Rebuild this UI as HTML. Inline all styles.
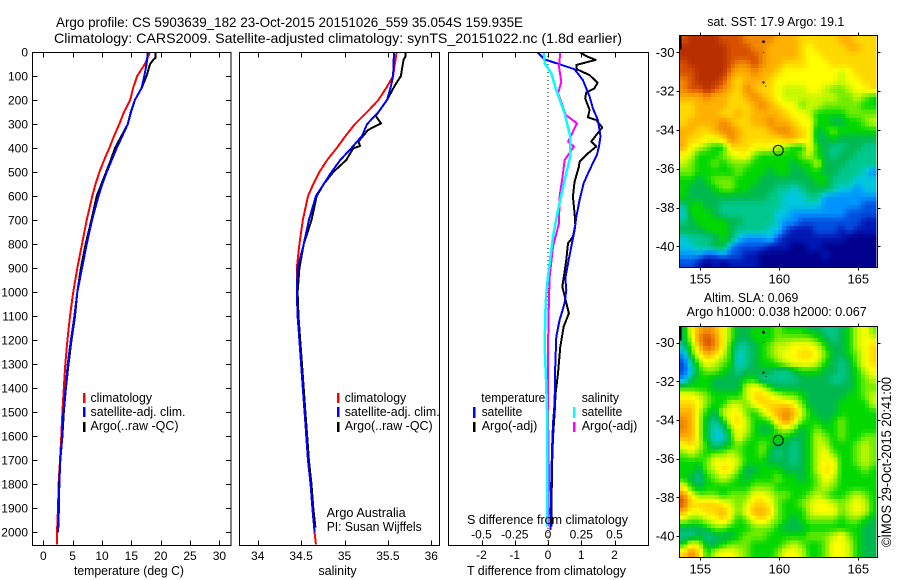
<!DOCTYPE html>
<html lang="en">
<head>
<meta charset="utf-8">
<title>Argo profile 5903639_182</title>
<style>
html,body{margin:0;padding:0;background:#fff;width:900px;height:580px;overflow:hidden}
svg{display:block}
text{font-family:"Liberation Sans",Arial,sans-serif;fill:#000}
</style>
</head>
<body>
<svg id="chart" xmlns="http://www.w3.org/2000/svg" width="900" height="580" viewBox="0 0 900 580">
<rect x="0" y="0" width="900" height="580" fill="#fff"/>
<text x="56" y="27" font-size="14" textLength="467" lengthAdjust="spacingAndGlyphs">Argo profile: CS 5903639_182 23-Oct-2015 20151026_559 35.054S 159.935E</text>
<text x="54" y="43" font-size="14" textLength="568" lengthAdjust="spacingAndGlyphs">Climatology: CARS2009. Satellite-adjusted climatology: synTS_20151022.nc (1.8d earlier)</text>
<defs>
<clipPath id="clip-p1"><rect x="32.5" y="52" width="198.5" height="493"/></clipPath>
<clipPath id="clip-p2"><rect x="239.5" y="52" width="200" height="493"/></clipPath>
<clipPath id="clip-p3"><rect x="448.5" y="52" width="200" height="493"/></clipPath>
<clipPath id="clip-m1"><rect x="679.5" y="35" width="197" height="232.5"/></clipPath>
<clipPath id="clip-m2"><rect x="679.5" y="326" width="197" height="231.5"/></clipPath>
</defs>
<g id="layer-maps"></g>
<g id="layer-lines"></g>
<g id="layer-axes"></g>

<g font-size="12.5">
<rect x="83" y="393" width="2.5" height="10" fill="#f00"/>
<rect x="83" y="407" width="2.5" height="10" fill="#00f"/>
<rect x="83" y="422" width="2.5" height="10" fill="#000"/>
<text x="90.5" y="402" textLength="61.5" lengthAdjust="spacingAndGlyphs">climatology</text>
<text x="90.5" y="416" textLength="95" lengthAdjust="spacingAndGlyphs">satellite-adj. clim.</text>
<text x="90.5" y="430" textLength="88" lengthAdjust="spacingAndGlyphs">Argo(..raw -QC)</text>
</g>
<g font-size="12.5">
<rect x="337" y="393" width="2.5" height="10" fill="#f00"/>
<rect x="337" y="407" width="2.5" height="10" fill="#00f"/>
<rect x="337" y="422" width="2.5" height="10" fill="#000"/>
<text x="344.7" y="402" textLength="61.5" lengthAdjust="spacingAndGlyphs">climatology</text>
<text x="344.7" y="416" textLength="95" lengthAdjust="spacingAndGlyphs">satellite-adj. clim.</text>
<text x="344.7" y="430" textLength="88" lengthAdjust="spacingAndGlyphs">Argo(..raw -QC)</text>
<text x="326.7" y="517" textLength="79" lengthAdjust="spacingAndGlyphs">Argo Australia</text>
<text x="326.7" y="531" textLength="95" lengthAdjust="spacingAndGlyphs">PI: Susan Wijffels</text>
</g>
<g font-size="12.5">
<text x="481.3" y="402" textLength="64" lengthAdjust="spacingAndGlyphs">temperature</text>
<text x="481.7" y="416" textLength="40.6" lengthAdjust="spacingAndGlyphs">satellite</text>
<text x="481.7" y="430" textLength="55.6" lengthAdjust="spacingAndGlyphs">Argo(-adj)</text>
<rect x="473" y="407" width="2.5" height="11" fill="#00f"/>
<rect x="473" y="422" width="2.5" height="10" fill="#000"/>
<text x="581.7" y="402" textLength="37.3" lengthAdjust="spacingAndGlyphs">salinity</text>
<text x="581.7" y="416" textLength="40.6" lengthAdjust="spacingAndGlyphs">satellite</text>
<text x="581.7" y="430" textLength="55.6" lengthAdjust="spacingAndGlyphs">Argo(-adj)</text>
<rect x="573" y="407" width="2.5" height="11" fill="#0ff"/>
<rect x="573" y="422" width="2.5" height="10" fill="#f0f"/>
<text x="467" y="524" textLength="161" lengthAdjust="spacingAndGlyphs">S difference from climatology</text>
</g>

<text x="74" y="575" font-size="12.5" textLength="110" lengthAdjust="spacingAndGlyphs">temperature (deg C)</text>
<text x="337.5" y="575" font-size="12.5" text-anchor="middle">salinity</text>
<text x="467" y="575" font-size="12.5" textLength="159" lengthAdjust="spacingAndGlyphs">T difference from climatology</text>
<text x="707.3" y="26" font-size="12.5" textLength="137" lengthAdjust="spacingAndGlyphs">sat. SST: 17.9 Argo: 19.1</text>
<text x="704" y="302" font-size="12.5" textLength="94.3" lengthAdjust="spacingAndGlyphs">Altim. SLA: 0.069</text>
<text x="686.7" y="316" font-size="12.5" textLength="180" lengthAdjust="spacingAndGlyphs">Argo h1000: 0.038 h2000: 0.067</text>
<text transform="translate(891,547) rotate(-90)" font-size="13.5" textLength="170" lengthAdjust="spacingAndGlyphs">©IMOS 29-Oct-2015 20:41:00</text>
</svg>

<script>
// ---------- Panel axis tick labels ----------
const depthTicks = [0,100,200,300,400,500,600,700,800,900,1000,1100,1200,1300,1400,1500,1600,1700,1800,1900,2000];
const tempTicks = [0,5,10,15,20,25,30];
const salTicks = [34,34.5,35,35.5,36];
const tDiffTicks = [-2,-1,0,1,2];
const sDiffTicks = [-0.5,-0.25,0,0.25,0.5];
const sDiffLabels = ['-0.5','-0.25','0','0.25','0.5'];
const lonTicks = [155,160,165];
const latTicks = [-30,-32,-34,-36,-38,-40];

// ---------- Temperature panel ----------
const tempClimDepth = [0,50,100,150,200,250,300,350,400,450,500,550,600,700,800,900,1000,1100,1200,1300,1400,1500,1600,1700,1800,1900,2000,2050];
const tempClimValue = [18.2,17.3,16.0,15.3,14.8,13.75,12.95,12.05,11.25,10.35,9.55,8.9,8.35,7.4,6.6,5.8,5.1,4.55,4.1,3.75,3.5,3.25,3.07,2.85,2.6,2.5,2.33,2.3];
const tempSatDepth = [0,50,100,150,200,250,300,350,400,450,500,550,600,700,800,900,1000,1100,1200,1300,1400,1500,1600,1700,1800,1900,2000];
const tempSatValue = [17.8,17.6,17.2,16.75,15.6,14.95,14.4,13.45,12.5,11.65,10.8,10.05,9.4,8.3,7.4,6.6,5.8,5.3,4.7,4.15,3.8,3.4,3.2,2.9,2.73,2.67,2.47];
const tempArgoDepth = [0,25,30,50,100,150,200,250,300,350,400,450,500,550,600,700,800,900,1000,1100,1200,1300,1400,1500,1600,1700,1800,1900,1980];
const tempArgoValue = [19.1,19.1,18.8,18.2,17.6,16.75,15.6,14.9,14.4,13.3,12.2,11.5,10.7,9.9,9.1,8.2,7.2,6.4,5.8,5.4,4.8,4.3,3.85,3.5,3.25,2.9,2.7,2.6,2.55];

// ---------- Salinity panel ----------
const salClimDepth = [0,100,150,200,250,300,350,400,450,500,550,600,650,700,800,900,1000,1100,1200,1300,1400,1500,1600,1700,1800,1900,2000,2050];
const salClimValue = [35.60,35.56,35.48,35.39,35.26,35.12,35.01,34.91,34.80,34.71,34.64,34.58,34.55,34.52,34.48,34.45,34.45,34.46,34.48,34.50,34.52,34.54,34.56,34.58,34.61,34.63,34.655,34.67];
const salSatDepth = [0,100,150,200,250,300,350,400,450,500,550,600,650,700,800,900,1000,1100,1200,1300,1400,1500,1600,1700,1800,1900,2000];
const salSatValue = [35.57,35.56,35.53,35.49,35.39,35.26,35.20,35.08,34.95,34.85,34.76,34.67,34.63,34.59,34.53,34.46,34.45,34.46,34.48,34.50,34.52,34.54,34.56,34.58,34.61,34.63,34.655];
const salArgoDepth = [0,20,33,100,140,200,266,297,325,373,391,401,450,500,550,600,650,700,800,900,1000,1100,1200,1300,1400,1500,1600,1700,1800,1900,1980];
const salArgoValue = [35.70,35.70,35.68,35.65,35.58,35.49,35.36,35.42,35.27,35.16,35.18,35.10,35.02,34.87,34.76,34.68,34.65,34.62,34.53,34.48,34.46,34.47,34.49,34.51,34.53,34.55,34.57,34.59,34.62,34.64,34.665];

// ---------- Difference panel ----------
const tDiffSatDepth = [0,31,51,72,117,186,235,283,352,394,429,491,547,616,686,741,810,880,942,991,1046,1116,1185,1297,1463,1546,1657,1782,1990];
const tDiffSatValue = [-0.32,-0.1,0.35,0.8,1.05,1.25,1.35,1.5,1.58,1.53,1.47,1.25,1.07,0.95,0.85,0.8,0.7,0.6,0.52,0.55,0.5,0.35,0.25,0.22,0.2,0.15,0.12,0.1,0.07];
const tDiffArgoDepth = [0,17,33,54,72,96,128,151,169,193,241,272,283,314,346,373,394,422,457,477,540,602,672,720,769,797,866,942,977,1032,1088,1144,1227,1338,1421,1505,1601,1727,1976];
const tDiffArgoValue = [0.95,1.15,1.43,0.85,0.87,1.25,1.49,1.4,1.15,1.12,1.25,1.2,1.45,1.63,1.45,1.3,1.45,1.2,0.95,0.93,0.8,0.75,0.8,0.82,0.75,0.6,0.55,0.47,0.43,0.53,0.63,0.47,0.37,0.3,0.23,0.2,0.15,0.12,0.1];
const sDiffSatDepth = [0,47,89,158,255,352,436,533,658,769,935,1005,1088,1227,1393,1532,1782,1976];
const sDiffSatValue = [-0.0325,-0.025,0.025,0.0625,0.125,0.1675,0.1675,0.125,0.075,0.0375,0,-0.0125,-0.02,-0.025,-0.0125,-0.005,-0.005,-0.0075];
const sDiffArgoDepth = [0,61,124,172,207,262,297,346,373,394,450,505,602,713,810,935,1019,1227,1505,1782,1976];
const sDiffArgoValue = [0.0925,0.0825,0.1,0.075,0.1,0.1325,0.2175,0.175,0.15,0.195,0.125,0.1125,0.0875,0.0825,0.0375,0.0125,0.0075,0,0,0.0075,0];

// ---------- Map grids (colour levels 0 = coldest/lowest ... 15 = warmest/highest) ----------
const sstGrid = [
[14,15,15,15,15,14,14,14,13,13,13,13,12,12,12,11,11,11,11,11,12,12,11,11,11],
[15,15,15,15,15,15,14,14,14,13,13,12,12,12,12,11,10,11,11,11,11,12,12,11,11],
[15,15,15,15,15,15,14,14,14,14,13,12,12,12,12,11,10,10,11,11,11,11,11,11,11],
[14,15,15,15,15,15,14,13,13,14,13,12,12,11,11,11,10,10,10,11,11,11,11,11,11],
[14,14,15,15,15,15,13,12,12,13,12,12,11,10,10,10,10,10,10,10,9,10,11,11,11],
[13,14,15,15,15,14,12,11,12,12,12,11,10,10,10,10,10,10,10,10,9,10,10,11,11],
[13,14,14,15,14,13,12,11,13,12,11,11,10,9,9,9,10,10,9,8,8,9,10,10,11],
[12,12,12,13,12,12,11,11,12,13,12,11,10,9,9,9,9,9,9,9,8,8,9,8,7],
[11,11,12,12,12,12,11,11,11,12,13,12,11,10,10,8,9,9,8,8,8,8,8,7,7],
[11,11,12,12,12,11,11,12,11,12,12,12,12,11,10,10,9,7,7,7,7,8,8,8,8],
[11,12,12,12,12,13,12,11,11,12,12,13,12,12,11,10,10,7,7,6,6,7,7,8,9],
[12,12,11,11,12,13,13,12,11,11,11,12,13,13,12,11,10,6,7,8,7,7,7,7,7],
[12,11,11,10,10,11,13,12,11,11,11,11,11,12,12,11,10,6,6,7,6,6,6,6,6],
[12,10,9,8,7,7,11,11,11,10,10,10,9,8,7,7,10,7,6,5,5,6,6,5,5],
[10,9,7,7,7,8,9,10,10,8,7,7,7,7,7,8,9,7,6,5,6,6,5,5,5],
[9,8,7,7,8,7,8,8,8,7,7,7,7,7,6,7,7,9,6,6,6,5,5,5,5],
[8,8,7,7,7,7,7,8,7,7,7,6,7,7,6,6,7,7,6,6,5,5,5,4,3],
[7,7,6,7,8,8,8,7,7,7,6,6,6,6,6,6,6,7,7,5,5,5,4,4,4],
[7,6,6,6,7,8,8,7,7,6,6,6,5,5,4,5,6,6,6,5,4,4,3,4,4],
[7,6,6,6,6,6,6,6,6,6,6,5,5,4,4,4,5,5,3,3,3,3,3,3,3],
[5,7,7,6,6,5,5,5,5,5,5,5,5,4,4,4,4,4,3,3,3,3,3,2,2],
[4,7,7,7,6,5,5,5,5,5,5,5,4,4,3,3,3,3,3,3,3,2,2,2,2],
[5,6,7,7,7,7,6,6,5,5,5,5,4,3,3,2,2,2,2,2,2,2,2,1,1],
[6,6,6,7,7,7,6,5,5,5,5,4,4,2,1,1,1,2,2,2,1,2,1,1,1],
[4,5,5,5,6,7,6,4,3,3,3,4,2,1,1,1,1,1,1,1,1,0,0,0,0],
[4,4,5,5,6,6,3,2,2,2,2,1,1,1,0,0,1,1,0,0,0,0,0,0,0],
[3,3,3,2,2,3,2,2,1,1,0,0,0,0,0,0,0,0,1,0,0,0,0,0,0],
[2,2,1,0,1,0,1,1,1,1,0,0,0,0,0,0,0,0,0,0,0,0,0,0,0]
];
const slaGrid = [
[6,10,12,13,12,10,8,6,6,7,7,7,8,7,7,7,6,6,5,5,6,7,9,10,8],
[6,9,13,14,13,10,8,6,6,7,7,7,8,8,8,8,8,7,6,5,6,7,9,10,9],
[5,8,12,14,13,10,7,5,5,6,7,8,9,9,10,10,10,9,7,6,6,7,9,10,11],
[3,7,10,12,11,9,7,4,5,6,7,8,9,10,10,11,11,10,8,6,6,7,8,10,11],
[2,5,8,10,9,8,7,4,5,6,7,7,8,9,10,10,10,9,7,6,5,6,8,10,11],
[2,4,7,8,8,7,6,5,6,6,6,6,5,5,6,7,7,7,6,6,5,6,7,9,10],
[3,6,7,7,6,6,6,6,7,7,5,5,5,5,5,6,6,6,6,5,5,6,7,8,9],
[7,7,7,7,6,6,6,6,9,10,9,7,6,6,6,6,6,6,6,6,6,6,7,8,8],
[10,10,9,8,7,7,7,7,9,11,11,10,9,8,8,7,6,6,6,6,6,7,7,8,9],
[11,11,10,8,7,7,9,9,8,10,11,11,11,11,10,8,6,6,6,6,7,7,7,7,9],
[12,12,9,7,6,9,10,10,8,7,9,11,12,13,12,9,7,6,6,6,7,7,7,7,7],
[13,12,9,6,5,7,10,11,9,7,7,8,11,13,11,8,7,7,6,7,8,7,7,7,7],
[13,12,9,6,4,5,8,10,9,7,6,6,8,9,8,6,7,8,7,7,8,7,7,7,7],
[12,12,9,6,4,4,7,10,8,7,7,7,7,7,6,6,7,9,8,7,8,7,7,8,8],
[10,11,9,7,5,6,7,8,7,7,8,7,6,6,5,6,7,9,9,7,7,7,8,9,8],
[8,9,8,7,8,8,9,8,7,7,8,6,5,6,5,6,7,9,10,8,7,7,8,9,8],
[7,7,7,8,10,10,10,9,7,7,7,6,6,6,5,6,7,9,10,10,7,7,8,9,8],
[7,7,6,8,9,11,10,8,6,6,7,7,7,6,6,6,7,9,11,10,7,7,7,8,7],
[7,6,5,7,8,9,8,7,6,7,7,7,8,7,7,6,7,8,10,9,7,7,7,7,7],
[10,7,6,7,7,7,7,7,7,8,8,8,7,7,7,7,7,8,9,8,7,7,7,7,7],
[13,10,8,8,8,7,8,8,8,10,10,9,8,8,7,7,8,9,8,7,7,8,9,8,7],
[14,11,11,11,11,10,9,8,9,11,11,10,8,7,7,8,9,10,10,9,8,9,10,9,7],
[12,10,10,11,11,12,10,8,10,12,12,11,8,7,7,7,9,10,10,10,8,9,10,9,7],
[9,8,8,9,10,11,9,7,8,10,11,9,8,7,6,7,8,8,8,8,7,8,8,7,6],
[6,6,6,7,8,8,7,7,7,8,8,8,7,6,6,6,7,7,7,7,7,7,7,6,6],
[5,5,6,5,6,6,6,7,8,8,8,7,7,7,7,7,8,8,8,9,10,8,7,6,6],
[7,10,9,6,6,7,8,8,8,7,7,7,7,8,9,8,7,7,8,10,10,9,7,6,6],
[11,13,11,7,9,10,10,9,8,7,7,7,8,10,10,9,7,7,8,10,10,9,7,6,6]
];
const profileLon = 159.935;
const profileLat = -35.054;

// ---------- Helpers ----------
const NS = 'http://www.w3.org/2000/svg';
const layerMaps = document.getElementById('layer-maps');
const layerLines = document.getElementById('layer-lines');
const layerAxes = document.getElementById('layer-axes');
function mk(tag, attrs, parent, txt) {
  const el = document.createElementNS(NS, tag);
  for (const k in attrs) el.setAttribute(k, attrs[k]);
  if (txt !== undefined) el.textContent = txt;
  parent.appendChild(el);
  return el;
}

// ---------- Axis functions ----------
const yDepth = d => 52 + d * 0.2402;
const xTemp = t => 43.3 + t * 5.87;
const xSal = s => 257.7 + (s - 34) * 86.8;
const xTDiff = t => 548 + t * 33.25;
const xSDiff = s => 548 + s * 133;
const lonX = lon => 779.3 + (lon - 160) * 15.8;
const sstLatY = lat => 52.3 + (-30 - lat) * 19.4;
const slaLatY = lat => 342.7 + (-30 - lat) * 19.33;

// ---------- Profile lines ----------
function drawLine(depths, values, xFn, color, width, clip, name) {
  const pts = depths.map((d, i) => xFn(values[i]).toFixed(1) + ',' + yDepth(d).toFixed(1)).join(' ');
  const el = mk('polyline', {points: pts, fill: 'none', stroke: color, 'stroke-width': width, 'shape-rendering': 'crispEdges', 'stroke-linejoin': 'round', 'clip-path': 'url(#' + clip + ')'}, layerLines);
  
  
}
const zeroLine = mk('line', {x1: xTDiff(0), x2: xTDiff(0), y1: 52, y2: 545, stroke: '#000', 'stroke-width': 1, 'stroke-dasharray': '1 3'}, layerLines);



drawLine(tempClimDepth, tempClimValue, xTemp, '#f00', 2, 'clip-p1', 'temperature-climatology-line');
drawLine(tempArgoDepth, tempArgoValue, xTemp, '#000', 2, 'clip-p1', 'temperature-argo-line');
drawLine(tempSatDepth, tempSatValue, xTemp, '#00f', 2, 'clip-p1', 'temperature-satellite-line');
drawLine(salClimDepth, salClimValue, xSal, '#f00', 2, 'clip-p2', 'salinity-climatology-line');
drawLine(salArgoDepth, salArgoValue, xSal, '#000', 2, 'clip-p2', 'salinity-argo-line');
drawLine(salSatDepth, salSatValue, xSal, '#00f', 2, 'clip-p2', 'salinity-satellite-line');
drawLine(tDiffArgoDepth, tDiffArgoValue, xTDiff, '#000', 2, 'clip-p3', 't-difference-argo-line');
drawLine(tDiffSatDepth, tDiffSatValue, xTDiff, '#00f', 2, 'clip-p3', 't-difference-satellite-line');
drawLine(sDiffArgoDepth, sDiffArgoValue, xSDiff, '#f0f', 2, 'clip-p3', 's-difference-argo-line');
drawLine(sDiffSatDepth, sDiffSatValue, xSDiff, '#0ff', 2.5, 'clip-p3', 's-difference-satellite-line');

// ---------- Panels: frames, ticks, labels ----------
function drawFrame(x, y, w, h, name) {
  const el = mk('rect', {x: x, y: y, width: w, height: h, fill: 'none', stroke: '#000', 'stroke-width': 1}, layerAxes);
  
  
}
function drawTick(x1, y1, x2, y2) {
  const el = mk('line', {x1: x1, y1: y1, x2: x2, y2: y2, stroke: '#000', 'stroke-width': 1}, layerAxes);
  
  
}
function drawLabel(x, y, anchor, size, str) {
  const el = mk('text', {x: x, y: y, 'text-anchor': anchor, 'font-size': size}, layerAxes, str);
  
  
}
const PT = 52.5, PB = 545.5;
drawFrame(32.5, PT, 198.5, PB - PT, 'temperature-panel-frame');
drawFrame(239.5, PT, 200, PB - PT, 'salinity-panel-frame');
drawFrame(448.5, PT, 200, PB - PT, 'difference-panel-frame');
depthTicks.forEach(d => {
  const y = Math.round(yDepth(d)) + 0.5;
  drawTick(32.5, y, 37.5, y);
  drawTick(231, y, 226, y);
  drawLabel(28, Math.round(yDepth(d)) + 4.5, 'end', 12, String(d));
});
function xAxisTicks(ticks, fn, labels, baseline) {
  ticks.forEach((t, i) => {
    const x = Math.round(fn(t)) + 0.5;
    drawTick(x, PT, x, PT + 5);
    drawTick(x, PB, x, PB - 5);
    drawLabel(fn(t), baseline, 'middle', 12, labels[i]);
  });
}
xAxisTicks(tempTicks, xTemp, tempTicks.map(String), 560);
xAxisTicks(salTicks, xSal, salTicks.map(String), 560);
xAxisTicks(tDiffTicks, xTDiff, tDiffTicks.map(String), 559);
sDiffTicks.forEach((s, i) => {
  drawLabel(xSDiff(s), 538.7, 'middle', 12, sDiffLabels[i]);
});

// ---------- Maps ----------
const paletteStops = ['#00008c','#0018b4','#0050e0','#0094ff','#00c8dc','#00c88c','#00b850','#00d800','#70ec00','#c8f800','#ffff00','#ffd800','#ffb000','#f08800','#d85000','#b83000'];
const rgbStops = paletteStops.map(h => [1, 3, 5].map(i => parseInt(h.substr(i, 2), 16)));
function colorFor(level) {
  const v = Math.max(0, Math.min(15, level));
  const i = Math.min(14, Math.floor(v));
  const f = v - i;
  const c = rgbStops[i].map((a, k) => Math.round(a + (rgbStops[i + 1][k] - a) * f));
  return 'rgb(' + c.join(',') + ')';
}
const LON0 = 153.68, DLON = 0.5, LAT0 = -29.11, DLAT = 0.4275, SUB = 2;
function drawMap(grid, latY, clip, top, bottom, baseline, cellName, prefix) {
  const g = mk('g', {'clip-path': 'url(#' + clip + ')', 'shape-rendering': 'crispEdges'}, layerMaps);
  
  
  const nr = grid.length, nc = grid[0].length;
  for (let rs = 0; rs < nr * SUB; rs++) {
    for (let cs = 0; cs < nc * SUB; cs++) {
      const rf = Math.max(0, Math.min(nr - 1.001, (rs + 0.5) / SUB - 0.5));
      const cf = Math.max(0, Math.min(nc - 1.001, (cs + 0.5) / SUB - 0.5));
      const r0 = Math.floor(rf), c0 = Math.floor(cf), fr = rf - r0, fc = cf - c0;
      const level = grid[r0][c0] * (1 - fr) * (1 - fc) + grid[r0][c0 + 1] * (1 - fr) * fc + grid[r0 + 1][c0] * fr * (1 - fc) + grid[r0 + 1][c0 + 1] * fr * fc;
      const x1 = lonX(LON0 + cs * DLON / SUB), x2 = lonX(LON0 + (cs + 1) * DLON / SUB);
      const y1 = latY(LAT0 - rs * DLAT / SUB), y2 = latY(LAT0 - (rs + 1) * DLAT / SUB);
      const cell = mk('rect', {x: x1.toFixed(2), y: y1.toFixed(2), width: (x2 - x1 + 0.3).toFixed(2), height: (y2 - y1 + 0.3).toFixed(2), fill: colorFor(level)}, g);
      
      
    }
  }
  // island specks and left-edge artefact
  const bar = mk('rect', {x: 680, y: top, width: 1.5, height: 14, fill: '#000'}, g);
  
  
  [[159, -29.45, 1.4], [159, -30, 0.6], [159, -31.55, 1.1], [159.15, -31.75, 0.6]].forEach(s => {
    const sp = mk('circle', {cx: lonX(s[0]), cy: latY(s[1]), r: s[2], fill: '#000'}, g);
    
    
  });
  const marker = mk('circle', {cx: lonX(profileLon), cy: latY(profileLat), r: 5, fill: 'none', stroke: '#000', 'stroke-width': 1}, layerMaps);
  
  
  drawFrame(679.5, top, 198, bottom - top, prefix + '-map-frame');
  lonTicks.forEach(lon => {
    const x = Math.round(lonX(lon)) + 0.5;
    drawTick(x, top, x, top - 3);
    drawTick(x, bottom, x, bottom + 3);
    drawLabel(lonX(lon), baseline, 'middle', 13, String(lon));
  });
  latTicks.forEach(lat => {
    const y = Math.round(latY(lat)) + 0.5;
    drawTick(679.5, y, 676.5, y);
    drawTick(877.5, y, 880.5, y);
    drawLabel(674.5, latY(lat) + 4.5, 'end', 13, String(lat));
  });
}
drawMap(sstGrid, sstLatY, 'clip-m1', 35.5, 267.5, 283.5, 'sst-cell', 'sst');
drawMap(slaGrid, slaLatY, 'clip-m2', 326.5, 557.5, 573.5, 'sla-cell', 'sla');
</script>
</body>
</html>
